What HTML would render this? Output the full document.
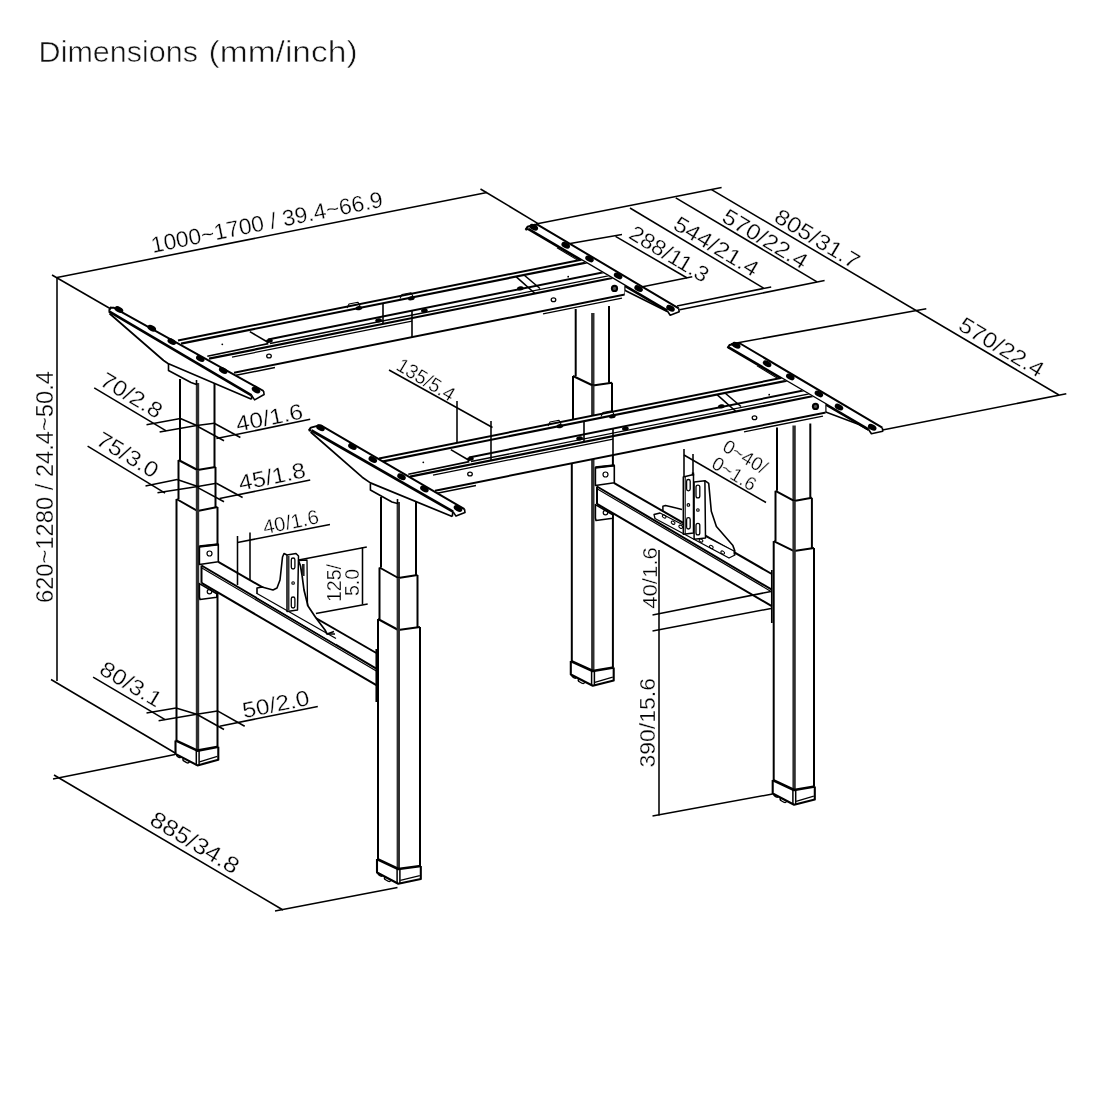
<!DOCTYPE html>
<html><head><meta charset="utf-8"><style>
html,body{margin:0;padding:0;background:#fff;}
svg{display:block;will-change:transform;}
text{font-family:"Liberation Sans",sans-serif;fill:#000;stroke:#fff;stroke-width:0.3px;}
text.t{stroke:#fff;stroke-width:0.55px;fill:#111;}
</style></head><body>
<svg width="1100" height="1100" viewBox="0 0 1100 1100">
<defs>
<clipPath id="cb"><polygon points="0,0 527,0 528.1,228.9 624.7,285.7 624.7,1100 0,1100"/></clipPath>
<clipPath id="cf"><polygon points="0,0 728,0 728.5,347.4 825.7,404.3 825.7,1100 0,1100"/></clipPath>
</defs>
<rect width="1100" height="1100" fill="#fff"/>
<polygon points="571.8,376.0 612.9,376.0 612.9,667.5 571.8,661.0" fill="#fff" stroke-linejoin="round"/>
<polygon points="575.7,309.0 609.0,306.0 609.0,382.7 575.7,376.0" fill="#fff" stroke-linejoin="round"/>
<line x1="575.7" y1="309.0" x2="575.7" y2="376.0" stroke="#000" stroke-width="2.0"/>
<line x1="609.0" y1="306.0" x2="609.0" y2="382.7" stroke="#000" stroke-width="2.0"/>
<line x1="592.8" y1="313.0" x2="592.8" y2="385.5" stroke="#2e2e2e" stroke-width="3.4"/>
<polyline points="573.0,376.0 592.8,385.5 612.0,382.7" fill="none" stroke="#000" stroke-width="2.0" stroke-linejoin="round"/>
<line x1="573.0" y1="376.0" x2="573.0" y2="425.0" stroke="#000" stroke-width="2.0"/>
<line x1="612.0" y1="382.7" x2="612.0" y2="432.0" stroke="#000" stroke-width="2.0"/>
<polyline points="571.8,425.0 592.8,435.0 612.9,432.0" fill="none" stroke="#000" stroke-width="2.0" stroke-linejoin="round"/>
<line x1="592.8" y1="385.5" x2="592.8" y2="435.0" stroke="#2e2e2e" stroke-width="3.4"/>
<line x1="571.8" y1="425.0" x2="571.8" y2="661.0" stroke="#000" stroke-width="2.0"/>
<line x1="612.9" y1="432.0" x2="612.9" y2="667.5" stroke="#000" stroke-width="2.0"/>
<line x1="592.8" y1="435.0" x2="592.8" y2="671.0" stroke="#2e2e2e" stroke-width="3.4"/>
<rect x="572.1" y="673.8" width="5" height="4" rx="1.8" transform="rotate(30 574.6 675.8)" fill="#fff" stroke="#000" stroke-width="1.4"/>
<rect x="578.3" y="678.3" width="7" height="4.5" rx="2" transform="rotate(30 581.8 680.5)" fill="#fff" stroke="#000" stroke-width="1.4"/>
<polygon points="570.8,661.0 592.8,671.0 613.7,667.5 613.7,680.5 592.8,685.8 570.8,674.5" fill="#fff" stroke-linejoin="round"/>
<polyline points="570.8,661.0 592.8,671.0 613.7,667.5" fill="none" stroke="#000" stroke-width="2.6" stroke-linejoin="round"/>
<polyline points="570.8,661.0 570.8,674.5 592.8,685.8 613.7,680.5 613.7,667.5" fill="none" stroke="#000" stroke-width="2.1" stroke-linejoin="round"/>
<line x1="591.6" y1="671.0" x2="591.6" y2="685.8" stroke="#000" stroke-width="1.5"/>
<line x1="594.4" y1="671.0" x2="594.4" y2="685.8" stroke="#000" stroke-width="1.5"/>
<line x1="594.8" y1="682.3" x2="612.7" y2="677.1" stroke="#000" stroke-width="1.2"/>
<polygon points="176.5,460.0 217.5,460.0 217.5,746.8 176.5,740.4" fill="#fff" stroke-linejoin="round"/>
<polygon points="180.0,379.0 214.5,380.0 214.5,467.0 180.0,460.0" fill="#fff" stroke-linejoin="round"/>
<line x1="180.0" y1="379.0" x2="180.0" y2="460.0" stroke="#000" stroke-width="2.0"/>
<line x1="214.5" y1="380.0" x2="214.5" y2="467.0" stroke="#000" stroke-width="2.0"/>
<line x1="197.5" y1="383.0" x2="197.5" y2="470.0" stroke="#2e2e2e" stroke-width="3.4"/>
<polyline points="178.5,460.0 197.5,470.0 215.5,467.0" fill="none" stroke="#000" stroke-width="2.0" stroke-linejoin="round"/>
<line x1="178.5" y1="460.0" x2="178.5" y2="499.0" stroke="#000" stroke-width="2.0"/>
<line x1="215.5" y1="467.0" x2="215.5" y2="507.0" stroke="#000" stroke-width="2.0"/>
<polyline points="176.5,499.0 197.5,511.0 217.5,507.0" fill="none" stroke="#000" stroke-width="2.0" stroke-linejoin="round"/>
<line x1="197.5" y1="470.0" x2="197.5" y2="511.0" stroke="#2e2e2e" stroke-width="3.4"/>
<line x1="176.5" y1="499.0" x2="176.5" y2="740.4" stroke="#000" stroke-width="2.0"/>
<line x1="217.5" y1="507.0" x2="217.5" y2="746.8" stroke="#000" stroke-width="2.0"/>
<line x1="197.5" y1="511.0" x2="197.5" y2="750.6" stroke="#2e2e2e" stroke-width="3.4"/>
<rect x="176.8" y="753.2" width="5" height="4" rx="1.8" transform="rotate(30 179.3 755.2)" fill="#fff" stroke="#000" stroke-width="1.4"/>
<rect x="183.0" y="757.7" width="7" height="4.5" rx="2" transform="rotate(30 186.5 759.9)" fill="#fff" stroke="#000" stroke-width="1.4"/>
<polygon points="175.5,740.4 197.5,750.6 218.3,746.8 218.3,759.8 197.5,765.4 175.5,753.9" fill="#fff" stroke-linejoin="round"/>
<polyline points="175.5,740.4 197.5,750.6 218.3,746.8" fill="none" stroke="#000" stroke-width="2.6" stroke-linejoin="round"/>
<polyline points="175.5,740.4 175.5,753.9 197.5,765.4 218.3,759.8 218.3,746.8" fill="none" stroke="#000" stroke-width="2.1" stroke-linejoin="round"/>
<line x1="196.3" y1="750.6" x2="196.3" y2="765.4" stroke="#000" stroke-width="1.5"/>
<line x1="199.1" y1="750.6" x2="199.1" y2="765.4" stroke="#000" stroke-width="1.5"/>
<line x1="199.5" y1="761.9" x2="217.3" y2="756.4" stroke="#000" stroke-width="1.2"/>
<polygon points="526.5,227.3 537.9,224.8 678.7,308.3 679.2,311.8 670.2,315.2 667.2,310.7 528.1,228.9" fill="#fff" stroke-linejoin="round"/>
<polyline points="624.7,290.3 624.7,285.3" fill="none" stroke-linejoin="round"/>
<polygon points="624.7,285.7 624.7,290.3 667.2,311.5 667.2,310.7" fill="#fff" stroke-linejoin="round"/>
<polyline points="624.7,290.3 667.2,311.5" fill="none" stroke="#000" stroke-width="1.6" stroke-linejoin="round"/>
<line x1="624.7" y1="285.7" x2="624.7" y2="290.3" stroke="#000" stroke-width="1.6"/>
<polyline points="525.5,229.8 527.5,226.8 534.9,224.8 537.9,224.8 678.7,308.3" fill="none" stroke="#000" stroke-width="2.0" stroke-linejoin="round"/>
<line x1="528.1" y1="228.9" x2="667.2" y2="310.7" stroke="#000" stroke-width="2.7"/>
<line x1="557.0" y1="247.7" x2="578.0" y2="260.4" stroke="#000" stroke-width="1.1"/>
<polyline points="525.5,229.8 528.1,228.9" fill="none" stroke="#000" stroke-width="2.0" stroke-linejoin="round"/>
<polyline points="678.7,308.3 679.2,311.8 670.2,315.2 667.2,310.7" fill="none" stroke="#000" stroke-width="1.6" stroke-linejoin="round"/>
<ellipse cx="533.8" cy="227.3" rx="4.6" ry="2.8" transform="rotate(28 533.8 227.3)" fill="#000"/>
<ellipse cx="565.7" cy="245.3" rx="4.6" ry="2.8" transform="rotate(28 565.7 245.3)" fill="#000"/>
<ellipse cx="589.5" cy="258.9" rx="4.6" ry="2.8" transform="rotate(28 589.5 258.9)" fill="#000"/>
<ellipse cx="618.1" cy="275.9" rx="4.6" ry="2.8" transform="rotate(28 618.1 275.9)" fill="#000"/>
<ellipse cx="638.6" cy="288.6" rx="4.6" ry="2.8" transform="rotate(28 638.6 288.6)" fill="#000"/>
<ellipse cx="670.5" cy="308.3" rx="4.6" ry="2.8" transform="rotate(28 670.5 308.3)" fill="#000"/>
<g clip-path="url(#cb)">
<polygon points="178.0,340.4 590.0,258.0 625.0,268.0 625.0,294.5 234.0,372.7 207.0,359.1 181.0,343.8" fill="#fff" stroke-linejoin="round"/>
<line x1="178.0" y1="340.4" x2="590.0" y2="258.0" stroke="#000" stroke-width="2.0"/>
<line x1="181.0" y1="343.6" x2="590.0" y2="261.8" stroke="#000" stroke-width="2.2"/>
<line x1="268.0" y1="339.4" x2="625.0" y2="268.0" stroke="#000" stroke-width="2.0"/>
<line x1="270.0" y1="343.5" x2="622.0" y2="273.1" stroke="#000" stroke-width="1.4"/>
<line x1="209.0" y1="358.7" x2="625.0" y2="275.5" stroke="#000" stroke-width="2.2"/>
<line x1="232.0" y1="357.1" x2="412.0" y2="321.1" stroke="#000" stroke-width="1.2"/>
<line x1="234.0" y1="372.7" x2="625.0" y2="294.5" stroke="#000" stroke-width="2.0"/>
<line x1="207.3" y1="356.2" x2="268.3" y2="343.6" stroke="#000" stroke-width="1.6"/>
<line x1="249.8" y1="331.6" x2="268.3" y2="342.5" stroke="#000" stroke-width="1.6"/>
<line x1="516.0" y1="276.6" x2="535.0" y2="293.5" stroke="#000" stroke-width="1.6"/>
<line x1="524.0" y1="275.0" x2="540.0" y2="288.5" stroke="#000" stroke-width="1.6"/>
<line x1="383.0" y1="303.2" x2="383.0" y2="323.9" stroke="#000" stroke-width="1.6"/>
<line x1="412.0" y1="310.6" x2="412.0" y2="337.1" stroke="#000" stroke-width="1.6"/>
<line x1="625.0" y1="268.0" x2="625.0" y2="294.5" stroke="#000" stroke-width="1.6"/>
<line x1="236.0" y1="375.3" x2="275.0" y2="367.5" stroke="#000" stroke-width="1.4"/>
<line x1="543.0" y1="313.9" x2="622.0" y2="298.1" stroke="#000" stroke-width="1.4"/>
<ellipse cx="358.9" cy="308.1" rx="3.4" ry="2.1" transform="rotate(-11 358.9 308.1)" fill="#000"/>
<ellipse cx="411.3" cy="298.3" rx="3.4" ry="2.1" transform="rotate(-11 411.3 298.3)" fill="#000"/>
<ellipse cx="378.6" cy="320.4" rx="3.4" ry="2.1" transform="rotate(-11 378.6 320.4)" fill="#000"/>
<ellipse cx="424.4" cy="310.6" rx="3.4" ry="2.1" transform="rotate(-11 424.4 310.6)" fill="#000"/>
<ellipse cx="269.4" cy="340.8" rx="3.4" ry="2.1" transform="rotate(-11 269.4 340.8)" fill="#000"/>
<ellipse cx="520.4" cy="288.4" rx="3.4" ry="2.1" transform="rotate(-11 520.4 288.4)" fill="#000"/>
<polyline points="347.0,308.0 349.0,304.0 358.0,302.2 360.0,306.0" fill="none" stroke="#000" stroke-width="1.1" stroke-linejoin="round"/>
<polyline points="400.0,298.5 402.0,294.5 411.0,292.7 413.0,296.5" fill="none" stroke="#000" stroke-width="1.1" stroke-linejoin="round"/>
<ellipse cx="269.0" cy="356.0" rx="2.3" ry="1.9" transform="rotate(0 269.0 356.0)" fill="none" stroke="#000" stroke-width="1.3"/>
<ellipse cx="553.5" cy="299.8" rx="2.3" ry="1.9" transform="rotate(0 553.5 299.8)" fill="none" stroke="#000" stroke-width="1.3"/>
<ellipse cx="222.3" cy="344.3" rx="0.9" ry="0.9" transform="rotate(0 222.3 344.3)" fill="#000"/>
<ellipse cx="568.2" cy="276.7" rx="0.9" ry="0.9" transform="rotate(0 568.2 276.7)" fill="#000"/>
<ellipse cx="614.5" cy="288.4" rx="3.6" ry="3.6" transform="rotate(0 614.5 288.4)" fill="#000"/>
<ellipse cx="614.5" cy="288.4" rx="1.6" ry="1.6" transform="rotate(0 614.5 288.4)" fill="#555"/>
</g>
<polygon points="110.0,308.0 113.6,307.7 263.6,391.0 264.1,394.5 254.6,399.9 251.6,399.2 168.0,363.5 163.6,360.5 109.5,313.5" fill="#fff" stroke-linejoin="round"/>
<polyline points="168.5,364.0 168.5,370.5 191.0,382.5 196.5,384.5 196.5,380.0" fill="#fff" stroke="#000" stroke-width="1.6" stroke-linejoin="round"/>
<polyline points="109.5,313.5 163.6,360.5 168.0,363.5 251.6,399.2" fill="none" stroke="#000" stroke-width="1.7" stroke-linejoin="round"/>
<line x1="251.6" y1="395.4" x2="251.6" y2="399.2" stroke="#000" stroke-width="1.7"/>
<polyline points="109.0,310.5 111.0,307.5 110.6,307.7 113.6,307.7 263.6,391.0" fill="none" stroke="#000" stroke-width="2.0" stroke-linejoin="round"/>
<line x1="109.0" y1="311.4" x2="251.6" y2="395.4" stroke="#000" stroke-width="2.7"/>
<polyline points="109.0,310.5 109.0,311.4" fill="none" stroke="#000" stroke-width="2.0" stroke-linejoin="round"/>
<polyline points="263.6,391.0 264.1,394.5 254.6,399.9 251.6,395.4" fill="none" stroke="#000" stroke-width="1.6" stroke-linejoin="round"/>
<ellipse cx="119.0" cy="309.6" rx="4.6" ry="2.8" transform="rotate(28 119.0 309.6)" fill="#000"/>
<ellipse cx="151.8" cy="328.2" rx="4.6" ry="2.8" transform="rotate(28 151.8 328.2)" fill="#000"/>
<ellipse cx="171.8" cy="341.6" rx="4.6" ry="2.8" transform="rotate(28 171.8 341.6)" fill="#000"/>
<ellipse cx="200.3" cy="358.6" rx="4.6" ry="2.8" transform="rotate(28 200.3 358.6)" fill="#000"/>
<ellipse cx="223.2" cy="370.5" rx="4.6" ry="2.8" transform="rotate(28 223.2 370.5)" fill="#000"/>
<ellipse cx="256.0" cy="390.0" rx="4.6" ry="2.8" transform="rotate(28 256.0 390.0)" fill="#000"/>
<polygon points="218.3,561.8 376.3,653.0 376.3,685.1 201.5,582.9 201.5,565.5" fill="#fff" stroke-linejoin="round"/>
<line x1="218.3" y1="561.8" x2="376.3" y2="653.0" stroke="#000" stroke-width="2.0"/>
<line x1="201.5" y1="565.5" x2="376.3" y2="668.7" stroke="#000" stroke-width="2.0"/>
<line x1="201.5" y1="567.7" x2="376.3" y2="670.9" stroke="#000" stroke-width="1.2"/>
<line x1="201.5" y1="582.9" x2="376.3" y2="685.1" stroke="#000" stroke-width="2.0"/>
<line x1="201.5" y1="565.5" x2="201.5" y2="582.9" stroke="#000" stroke-width="2.0"/>
<line x1="376.3" y1="649.0" x2="376.3" y2="702.0" stroke="#000" stroke-width="1.7"/>
<polygon points="199.4,546.5 218.3,544.4 218.3,561.8 199.4,564.5" fill="#fff" stroke="#000" stroke-width="1.6" stroke-linejoin="round"/>
<line x1="199.4" y1="546.5" x2="218.3" y2="544.4" stroke="#000" stroke-width="2.4"/>
<polygon points="199.4,583.6 216.8,593.8 216.8,597.2 200.0,599.5 199.4,597.0" fill="#fff" stroke="#000" stroke-width="1.6" stroke-linejoin="round"/>
<ellipse cx="209.5" cy="553.5" rx="2.5" ry="2.5" transform="rotate(0 209.5 553.5)" fill="none" stroke="#000" stroke-width="1.2"/>
<ellipse cx="209.5" cy="591.6" rx="2.3" ry="2.3" transform="rotate(0 209.5 591.6)" fill="none" stroke="#000" stroke-width="1.2"/>
<polygon points="257.0,588.0 262.0,587.0 273.0,590.0 277.0,588.0 280.0,580.0 282.5,557.0 284.0,553.5 287.0,554.0 296.0,553.5 298.5,556.0 298.5,560.5 300.5,566.0 302.0,575.0 304.0,590.0 308.0,606.0 316.0,618.0 325.0,630.0 327.0,633.5 336.0,634.0 336.0,643.9 257.0,597.2" fill="#fff" stroke-linejoin="round"/>
<line x1="257.0" y1="593.5" x2="336.0" y2="638.5" stroke="#000" stroke-width="1.2"/>
<polyline points="257.0,594.0 257.0,588.0 262.0,587.0 273.0,590.0 277.0,588.0 280.0,580.0 282.5,557.0 284.0,553.5 287.0,555.0" fill="none" stroke="#000" stroke-width="1.6" stroke-linejoin="round"/>
<polygon points="287.0,555.0 296.0,553.5 298.5,556.0 297.5,610.0 287.0,611.5" fill="#fff" stroke="#000" stroke-width="1.5" stroke-linejoin="round"/>
<line x1="288.8" y1="556.0" x2="288.8" y2="610.5" stroke="#000" stroke-width="1.2"/>
<rect x="291.3" y="558" width="3.6" height="11" rx="1.8" fill="none" stroke="#000" stroke-width="1.3"/>
<rect x="291.3" y="597" width="3.6" height="11" rx="1.8" fill="none" stroke="#000" stroke-width="1.3"/>
<ellipse cx="293.1" cy="583.0" rx="1.3" ry="1.3" transform="rotate(0 293.1 583.0)" fill="none" stroke="#000" stroke-width="1.1"/>
<polyline points="298.5,560.5 307.0,560.0 307.5,606.0" fill="none" stroke="#000" stroke-width="1.3" stroke-linejoin="round"/>
<polyline points="298.5,560.5 300.5,566.0 302.0,575.0 304.0,590.0 308.0,606.0 316.0,618.0 325.0,630.0 327.0,634.0 335.0,634.0" fill="none" stroke="#000" stroke-width="1.7" stroke-linejoin="round"/>
<rect x="302" y="564" width="2.6" height="12" fill="#222"/>
<line x1="327.0" y1="634.0" x2="334.0" y2="631.5" stroke="#000" stroke-width="1.4"/>
<polygon points="613.8,482.8 771.8,574.0 771.8,606.1 597.0,503.9 597.0,486.5" fill="#fff" stroke-linejoin="round"/>
<line x1="613.8" y1="482.8" x2="771.8" y2="574.0" stroke="#000" stroke-width="2.0"/>
<line x1="597.0" y1="486.5" x2="771.8" y2="589.7" stroke="#000" stroke-width="2.0"/>
<line x1="597.0" y1="488.7" x2="771.8" y2="591.9" stroke="#000" stroke-width="1.2"/>
<line x1="597.0" y1="503.9" x2="771.8" y2="606.1" stroke="#000" stroke-width="2.0"/>
<line x1="597.0" y1="486.5" x2="597.0" y2="503.9" stroke="#000" stroke-width="2.0"/>
<line x1="771.8" y1="570.0" x2="771.8" y2="623.0" stroke="#000" stroke-width="1.7"/>
<polygon points="595.4,467.5 614.3,465.4 614.3,482.8 595.4,485.5" fill="#fff" stroke="#000" stroke-width="1.6" stroke-linejoin="round"/>
<line x1="595.4" y1="467.5" x2="614.3" y2="465.4" stroke="#000" stroke-width="2.4"/>
<polygon points="595.4,504.6 612.8,514.8 612.8,518.2 596.0,520.5 595.4,518.0" fill="#fff" stroke="#000" stroke-width="1.6" stroke-linejoin="round"/>
<ellipse cx="605.5" cy="474.5" rx="2.5" ry="2.5" transform="rotate(0 605.5 474.5)" fill="none" stroke="#000" stroke-width="1.2"/>
<ellipse cx="605.5" cy="512.6" rx="2.3" ry="2.3" transform="rotate(0 605.5 512.6)" fill="none" stroke="#000" stroke-width="1.2"/>
<polygon points="654.0,514.5 660.0,513.0 734.0,551.0 735.0,555.0 729.0,558.0 655.0,518.5" fill="#fff" stroke="#000" stroke-width="1.3" stroke-linejoin="round"/>
<ellipse cx="664.2" cy="516.4" rx="2.0" ry="1.4" transform="rotate(30 664.2 516.4)" fill="none" stroke="#000" stroke-width="1.1"/>
<ellipse cx="673.1" cy="522.7" rx="2.0" ry="1.4" transform="rotate(30 673.1 522.7)" fill="none" stroke="#000" stroke-width="1.1"/>
<ellipse cx="680.7" cy="526.8" rx="2.0" ry="1.4" transform="rotate(30 680.7 526.8)" fill="none" stroke="#000" stroke-width="1.1"/>
<ellipse cx="701.0" cy="540.5" rx="2.0" ry="1.4" transform="rotate(30 701.0 540.5)" fill="none" stroke="#000" stroke-width="1.1"/>
<ellipse cx="711.3" cy="546.9" rx="2.0" ry="1.4" transform="rotate(30 711.3 546.9)" fill="none" stroke="#000" stroke-width="1.1"/>
<ellipse cx="722.7" cy="552.6" rx="2.0" ry="1.4" transform="rotate(30 722.7 552.6)" fill="none" stroke="#000" stroke-width="1.1"/>
<polyline points="662.9,511.8 662.9,506.2 665.5,505.5 672.0,507.0 682.0,509.4" fill="none" stroke="#000" stroke-width="1.5" stroke-linejoin="round"/>
<polygon points="683.3,476.9 693.5,474.4 693.5,532.9 683.3,534.2" fill="#fff" stroke="#000" stroke-width="1.5" stroke-linejoin="round"/>
<line x1="685.2" y1="477.0" x2="685.2" y2="534.0" stroke="#000" stroke-width="1.1"/>
<rect x="686.6" y="479.5" width="3.6" height="11.4" rx="1.8" fill="none" stroke="#000" stroke-width="1.3"/>
<rect x="686.6" y="517.6" width="3.6" height="11.4" rx="1.8" fill="none" stroke="#000" stroke-width="1.3"/>
<ellipse cx="688.4" cy="504.9" rx="1.3" ry="1.3" transform="rotate(0 688.4 504.9)" fill="none" stroke="#000" stroke-width="1.1"/>
<rect x="691.8" y="472.5" width="2.4" height="3" fill="#000"/>
<polygon points="694.1,482.0 704.9,480.7 705.5,538.0 694.1,539.3" fill="#fff" stroke="#000" stroke-width="1.5" stroke-linejoin="round"/>
<rect x="696" y="485.2" width="3.8" height="12.7" rx="1.9" fill="none" stroke="#000" stroke-width="1.3"/>
<rect x="696" y="523.4" width="3.8" height="11.4" rx="1.9" fill="none" stroke="#000" stroke-width="1.3"/>
<ellipse cx="697.9" cy="510.0" rx="1.3" ry="1.3" transform="rotate(0 697.9 510.0)" fill="none" stroke="#000" stroke-width="1.1"/>
<polyline points="704.9,480.7 708.7,483.3 711.3,511.3 716.4,526.5 732.9,545.6 734.8,550.7 734.2,554.5" fill="none" stroke="#000" stroke-width="1.6" stroke-linejoin="round"/>
<polygon points="773.7,490.8 814.0,490.8 814.0,786.5 773.7,780.0" fill="#fff" stroke-linejoin="round"/>
<polygon points="777.0,427.5 810.3,423.5 810.3,497.8 777.0,490.8" fill="#fff" stroke-linejoin="round"/>
<line x1="777.0" y1="427.5" x2="777.0" y2="490.8" stroke="#000" stroke-width="2.0"/>
<line x1="810.3" y1="423.5" x2="810.3" y2="497.8" stroke="#000" stroke-width="2.0"/>
<line x1="794.1" y1="425.5" x2="794.1" y2="500.9" stroke="#2e2e2e" stroke-width="3.4"/>
<polyline points="775.5,490.8 794.1,500.9 811.9,497.8" fill="none" stroke="#000" stroke-width="2.0" stroke-linejoin="round"/>
<line x1="775.5" y1="490.8" x2="775.5" y2="541.1" stroke="#000" stroke-width="2.0"/>
<line x1="811.9" y1="497.8" x2="811.9" y2="548.0" stroke="#000" stroke-width="2.0"/>
<polyline points="773.7,541.1 794.1,551.1 814.0,548.0" fill="none" stroke="#000" stroke-width="2.0" stroke-linejoin="round"/>
<line x1="794.1" y1="500.9" x2="794.1" y2="551.1" stroke="#2e2e2e" stroke-width="3.4"/>
<line x1="773.7" y1="541.1" x2="773.7" y2="780.0" stroke="#000" stroke-width="2.0"/>
<line x1="814.0" y1="548.0" x2="814.0" y2="786.5" stroke="#000" stroke-width="2.0"/>
<line x1="794.1" y1="551.1" x2="794.1" y2="790.0" stroke="#2e2e2e" stroke-width="3.4"/>
<rect x="774.0" y="792.8" width="5" height="4" rx="1.8" transform="rotate(30 776.5 794.8)" fill="#fff" stroke="#000" stroke-width="1.4"/>
<rect x="780.2" y="797.3" width="7" height="4.5" rx="2" transform="rotate(30 783.7 799.5)" fill="#fff" stroke="#000" stroke-width="1.4"/>
<polygon points="772.7,780.0 794.1,790.0 814.8,786.5 814.8,799.5 794.1,804.8 772.7,793.5" fill="#fff" stroke-linejoin="round"/>
<polyline points="772.7,780.0 794.1,790.0 814.8,786.5" fill="none" stroke="#000" stroke-width="2.6" stroke-linejoin="round"/>
<polyline points="772.7,780.0 772.7,793.5 794.1,804.8 814.8,799.5 814.8,786.5" fill="none" stroke="#000" stroke-width="2.1" stroke-linejoin="round"/>
<line x1="792.9" y1="790.0" x2="792.9" y2="804.8" stroke="#000" stroke-width="1.5"/>
<line x1="795.7" y1="790.0" x2="795.7" y2="804.8" stroke="#000" stroke-width="1.5"/>
<line x1="796.1" y1="801.3" x2="813.8" y2="796.1" stroke="#000" stroke-width="1.2"/>
<polygon points="378.0,567.5 420.0,567.5 420.0,866.0 378.0,859.0" fill="#fff" stroke-linejoin="round"/>
<polygon points="381.0,497.0 416.0,499.0 416.0,575.0 381.0,567.5" fill="#fff" stroke-linejoin="round"/>
<line x1="381.0" y1="497.0" x2="381.0" y2="567.5" stroke="#000" stroke-width="2.0"/>
<line x1="416.0" y1="499.0" x2="416.0" y2="575.0" stroke="#000" stroke-width="2.0"/>
<line x1="398.3" y1="502.0" x2="398.3" y2="578.0" stroke="#2e2e2e" stroke-width="3.4"/>
<polyline points="379.5,567.5 398.3,578.0 417.5,575.0" fill="none" stroke="#000" stroke-width="2.0" stroke-linejoin="round"/>
<line x1="379.5" y1="567.5" x2="379.5" y2="619.0" stroke="#000" stroke-width="2.0"/>
<line x1="417.5" y1="575.0" x2="417.5" y2="627.0" stroke="#000" stroke-width="2.0"/>
<polyline points="378.0,619.0 398.3,630.0 420.0,627.0" fill="none" stroke="#000" stroke-width="2.0" stroke-linejoin="round"/>
<line x1="398.3" y1="578.0" x2="398.3" y2="630.0" stroke="#2e2e2e" stroke-width="3.4"/>
<line x1="378.0" y1="619.0" x2="378.0" y2="859.0" stroke="#000" stroke-width="2.0"/>
<line x1="420.0" y1="627.0" x2="420.0" y2="866.0" stroke="#000" stroke-width="2.0"/>
<line x1="398.3" y1="630.0" x2="398.3" y2="869.0" stroke="#2e2e2e" stroke-width="3.4"/>
<rect x="378.3" y="871.8" width="5" height="4" rx="1.8" transform="rotate(30 380.8 873.8)" fill="#fff" stroke="#000" stroke-width="1.4"/>
<rect x="384.5" y="876.3" width="7" height="4.5" rx="2" transform="rotate(30 388.0 878.5)" fill="#fff" stroke="#000" stroke-width="1.4"/>
<polygon points="377.0,859.0 398.3,869.0 420.8,866.0 420.8,879.0 398.3,883.8 377.0,872.5" fill="#fff" stroke-linejoin="round"/>
<polyline points="377.0,859.0 398.3,869.0 420.8,866.0" fill="none" stroke="#000" stroke-width="2.6" stroke-linejoin="round"/>
<polyline points="377.0,859.0 377.0,872.5 398.3,883.8 420.8,879.0 420.8,866.0" fill="none" stroke="#000" stroke-width="2.1" stroke-linejoin="round"/>
<line x1="397.1" y1="869.0" x2="397.1" y2="883.8" stroke="#000" stroke-width="1.5"/>
<line x1="399.9" y1="869.0" x2="399.9" y2="883.8" stroke="#000" stroke-width="1.5"/>
<line x1="400.3" y1="880.3" x2="419.8" y2="875.6" stroke="#000" stroke-width="1.2"/>
<polygon points="728.5,345.5 740.1,343.5 882.3,427.7 882.8,431.2 871.4,433.8 868.4,429.3 728.5,347.4" fill="#fff" stroke-linejoin="round"/>
<polyline points="825.7,412.0 825.7,407.0" fill="none" stroke-linejoin="round"/>
<polygon points="825.7,404.3 825.7,412.0 859.0,424.6 868.4,430.0 868.4,429.3" fill="#fff" stroke-linejoin="round"/>
<polyline points="825.7,412.0 859.0,424.6 868.4,430.0" fill="none" stroke="#000" stroke-width="1.6" stroke-linejoin="round"/>
<line x1="825.7" y1="404.3" x2="825.7" y2="412.0" stroke="#000" stroke-width="1.6"/>
<polyline points="727.5,348.0 729.5,345.0 737.1,343.5 740.1,343.5 882.3,427.7" fill="none" stroke="#000" stroke-width="2.0" stroke-linejoin="round"/>
<line x1="728.5" y1="347.4" x2="868.4" y2="429.3" stroke="#000" stroke-width="2.7"/>
<line x1="757.0" y1="365.9" x2="780.0" y2="379.7" stroke="#000" stroke-width="1.1"/>
<polyline points="727.5,348.0 728.5,347.4" fill="none" stroke="#000" stroke-width="2.0" stroke-linejoin="round"/>
<polyline points="882.3,427.7 882.8,431.2 871.4,433.8 868.4,429.3" fill="none" stroke="#000" stroke-width="1.6" stroke-linejoin="round"/>
<ellipse cx="736.2" cy="345.3" rx="4.6" ry="2.8" transform="rotate(28 736.2 345.3)" fill="#000"/>
<ellipse cx="767.1" cy="363.8" rx="4.6" ry="2.8" transform="rotate(28 767.1 363.8)" fill="#000"/>
<ellipse cx="790.3" cy="376.9" rx="4.6" ry="2.8" transform="rotate(28 790.3 376.9)" fill="#000"/>
<ellipse cx="818.9" cy="393.9" rx="4.6" ry="2.8" transform="rotate(28 818.9 393.9)" fill="#000"/>
<ellipse cx="839.0" cy="407.1" rx="4.6" ry="2.8" transform="rotate(28 839.0 407.1)" fill="#000"/>
<ellipse cx="872.2" cy="427.3" rx="4.6" ry="2.8" transform="rotate(28 872.2 427.3)" fill="#000"/>
<g clip-path="url(#cf)">
<polygon points="379.0,458.4 791.0,376.0 826.0,386.0 826.0,412.5 435.0,490.7 408.0,477.1 382.0,461.8" fill="#fff" stroke-linejoin="round"/>
<line x1="379.0" y1="458.4" x2="791.0" y2="376.0" stroke="#000" stroke-width="2.0"/>
<line x1="382.0" y1="461.6" x2="791.0" y2="379.8" stroke="#000" stroke-width="2.2"/>
<line x1="469.0" y1="457.4" x2="826.0" y2="386.0" stroke="#000" stroke-width="2.0"/>
<line x1="471.0" y1="461.5" x2="823.0" y2="391.1" stroke="#000" stroke-width="1.4"/>
<line x1="410.0" y1="476.7" x2="826.0" y2="393.5" stroke="#000" stroke-width="2.2"/>
<line x1="433.0" y1="475.1" x2="613.0" y2="439.1" stroke="#000" stroke-width="1.2"/>
<line x1="435.0" y1="490.7" x2="826.0" y2="412.5" stroke="#000" stroke-width="2.0"/>
<line x1="408.3" y1="474.2" x2="469.3" y2="461.6" stroke="#000" stroke-width="1.6"/>
<line x1="450.8" y1="449.6" x2="469.3" y2="460.5" stroke="#000" stroke-width="1.6"/>
<line x1="717.0" y1="394.6" x2="736.0" y2="411.5" stroke="#000" stroke-width="1.6"/>
<line x1="725.0" y1="393.0" x2="741.0" y2="406.5" stroke="#000" stroke-width="1.6"/>
<line x1="584.0" y1="421.2" x2="584.0" y2="441.9" stroke="#000" stroke-width="1.6"/>
<line x1="613.0" y1="428.6" x2="613.0" y2="455.1" stroke="#000" stroke-width="1.6"/>
<line x1="826.0" y1="386.0" x2="826.0" y2="412.5" stroke="#000" stroke-width="1.6"/>
<line x1="437.0" y1="493.3" x2="476.0" y2="485.5" stroke="#000" stroke-width="1.4"/>
<line x1="744.0" y1="431.9" x2="823.0" y2="416.1" stroke="#000" stroke-width="1.4"/>
<ellipse cx="559.9" cy="426.1" rx="3.4" ry="2.1" transform="rotate(-11 559.9 426.1)" fill="#000"/>
<ellipse cx="612.3" cy="416.3" rx="3.4" ry="2.1" transform="rotate(-11 612.3 416.3)" fill="#000"/>
<ellipse cx="579.6" cy="438.4" rx="3.4" ry="2.1" transform="rotate(-11 579.6 438.4)" fill="#000"/>
<ellipse cx="625.4" cy="428.6" rx="3.4" ry="2.1" transform="rotate(-11 625.4 428.6)" fill="#000"/>
<ellipse cx="470.4" cy="458.8" rx="3.4" ry="2.1" transform="rotate(-11 470.4 458.8)" fill="#000"/>
<ellipse cx="721.4" cy="406.4" rx="3.4" ry="2.1" transform="rotate(-11 721.4 406.4)" fill="#000"/>
<polyline points="548.0,426.0 550.0,422.0 559.0,420.2 561.0,424.0" fill="none" stroke="#000" stroke-width="1.1" stroke-linejoin="round"/>
<polyline points="601.0,416.5 603.0,412.5 612.0,410.7 614.0,414.5" fill="none" stroke="#000" stroke-width="1.1" stroke-linejoin="round"/>
<ellipse cx="470.0" cy="474.0" rx="2.3" ry="1.9" transform="rotate(0 470.0 474.0)" fill="none" stroke="#000" stroke-width="1.3"/>
<ellipse cx="754.5" cy="417.8" rx="2.3" ry="1.9" transform="rotate(0 754.5 417.8)" fill="none" stroke="#000" stroke-width="1.3"/>
<ellipse cx="423.3" cy="462.3" rx="0.9" ry="0.9" transform="rotate(0 423.3 462.3)" fill="#000"/>
<ellipse cx="769.2" cy="394.7" rx="0.9" ry="0.9" transform="rotate(0 769.2 394.7)" fill="#000"/>
<ellipse cx="815.5" cy="406.4" rx="3.6" ry="3.6" transform="rotate(0 815.5 406.4)" fill="#000"/>
<ellipse cx="815.5" cy="406.4" rx="1.6" ry="1.6" transform="rotate(0 815.5 406.4)" fill="#555"/>
</g>
<polygon points="309.8,428.1 321.3,425.6 464.5,509.1 465.0,512.6 456.0,516.1 452.2,516.5 370.4,482.9 362.2,477.2 310.6,432.0" fill="#fff" stroke-linejoin="round"/>
<polyline points="370.4,483.5 370.4,490.0 392.0,502.0 397.5,503.5 397.5,499.0" fill="#fff" stroke="#000" stroke-width="1.6" stroke-linejoin="round"/>
<polyline points="310.6,432.0 362.2,477.2 370.4,482.9 452.2,516.5" fill="none" stroke="#000" stroke-width="1.7" stroke-linejoin="round"/>
<line x1="453.0" y1="511.6" x2="452.2" y2="516.5" stroke="#000" stroke-width="1.7"/>
<polyline points="308.8,430.6 310.8,427.6 318.3,425.6 321.3,425.6 464.5,509.1" fill="none" stroke="#000" stroke-width="2.0" stroke-linejoin="round"/>
<line x1="311.5" y1="430.5" x2="453.0" y2="511.6" stroke="#000" stroke-width="2.7"/>
<polyline points="308.8,430.6 311.5,430.5" fill="none" stroke="#000" stroke-width="2.0" stroke-linejoin="round"/>
<polyline points="464.5,509.1 465.0,512.6 456.0,516.1 453.0,511.6" fill="none" stroke="#000" stroke-width="1.6" stroke-linejoin="round"/>
<ellipse cx="320.5" cy="427.8" rx="4.6" ry="2.8" transform="rotate(28 320.5 427.8)" fill="#000"/>
<ellipse cx="352.4" cy="446.6" rx="4.6" ry="2.8" transform="rotate(28 352.4 446.6)" fill="#000"/>
<ellipse cx="372.8" cy="459.6" rx="4.6" ry="2.8" transform="rotate(28 372.8 459.6)" fill="#000"/>
<ellipse cx="401.5" cy="476.8" rx="4.6" ry="2.8" transform="rotate(28 401.5 476.8)" fill="#000"/>
<ellipse cx="424.4" cy="489.0" rx="4.6" ry="2.8" transform="rotate(28 424.4 489.0)" fill="#000"/>
<ellipse cx="458.0" cy="508.5" rx="4.6" ry="2.8" transform="rotate(28 458.0 508.5)" fill="#000"/>
<line x1="57.0" y1="277.5" x2="487.0" y2="192.5" stroke="#000" stroke-width="1.55"/>
<line x1="52.0" y1="275.0" x2="110.0" y2="308.5" stroke="#000" stroke-width="1.55"/>
<line x1="480.5" y1="189.0" x2="538.5" y2="223.8" stroke="#000" stroke-width="1.55"/>
<text x="268.4" y="229.7" font-size="22.5" text-anchor="middle" textLength="236" lengthAdjust="spacingAndGlyphs" transform="rotate(-11.4 268.4 229.7)">1000~1700 / 39.4~66.9</text>
<line x1="57.0" y1="277.0" x2="57.0" y2="681.0" stroke="#000" stroke-width="1.55"/>
<line x1="51.0" y1="679.5" x2="176.0" y2="753.5" stroke="#000" stroke-width="1.55"/>
<text x="52.9" y="487.0" font-size="23" text-anchor="middle" textLength="232" lengthAdjust="spacingAndGlyphs" transform="rotate(-90 52.9 487.0)">620~1280 / 24.4~50.4</text>
<line x1="53.0" y1="779.0" x2="175.0" y2="754.6" stroke="#000" stroke-width="1.55"/>
<line x1="54.0" y1="775.0" x2="283.0" y2="910.0" stroke="#000" stroke-width="1.55"/>
<line x1="275.0" y1="911.0" x2="397.5" y2="887.5" stroke="#000" stroke-width="1.55"/>
<text x="190.9" y="849.3" font-size="23" text-anchor="middle" textLength="99.4" lengthAdjust="spacingAndGlyphs" transform="rotate(31 190.9 849.3)">885/34.8</text>
<line x1="94.2" y1="387.9" x2="166.2" y2="430.9" stroke="#000" stroke-width="1.55"/>
<line x1="146.5" y1="424.8" x2="180.4" y2="418.5" stroke="#000" stroke-width="1.55"/>
<line x1="159.6" y1="432.0" x2="196.7" y2="425.5" stroke="#000" stroke-width="1.55"/>
<polyline points="180.4,418.5 196.7,425.5 214.2,423.3" fill="none" stroke="#000" stroke-width="1.55" stroke-linejoin="round"/>
<line x1="214.2" y1="423.3" x2="240.4" y2="437.5" stroke="#000" stroke-width="1.55"/>
<line x1="197.8" y1="426.5" x2="224.0" y2="440.7" stroke="#000" stroke-width="1.55"/>
<line x1="216.4" y1="438.6" x2="310.2" y2="419.3" stroke="#000" stroke-width="1.55"/>
<text x="127.7" y="401.7" font-size="22" text-anchor="middle" textLength="67.9" lengthAdjust="spacingAndGlyphs" transform="rotate(31 127.7 401.7)">70/2.8</text>
<text x="270.9" y="425.0" font-size="22" text-anchor="middle" textLength="67.9" lengthAdjust="spacingAndGlyphs" transform="rotate(-11.5 270.9 425.0)">40/1.6</text>
<line x1="87.6" y1="446.2" x2="165.1" y2="493.1" stroke="#000" stroke-width="1.55"/>
<line x1="145.5" y1="485.9" x2="177.1" y2="479.6" stroke="#000" stroke-width="1.55"/>
<line x1="157.5" y1="492.7" x2="197.8" y2="486.6" stroke="#000" stroke-width="1.55"/>
<polyline points="177.1,479.6 197.8,486.6 216.4,483.3" fill="none" stroke="#000" stroke-width="1.55" stroke-linejoin="round"/>
<line x1="216.4" y1="483.3" x2="242.6" y2="497.5" stroke="#000" stroke-width="1.55"/>
<line x1="197.8" y1="487.6" x2="224.0" y2="501.8" stroke="#000" stroke-width="1.55"/>
<line x1="219.6" y1="498.6" x2="310.2" y2="480.0" stroke="#000" stroke-width="1.55"/>
<text x="123.9" y="461.2" font-size="22" text-anchor="middle" textLength="67.9" lengthAdjust="spacingAndGlyphs" transform="rotate(31 123.9 461.2)">75/3.0</text>
<text x="273.6" y="483.9" font-size="22" text-anchor="middle" textLength="67.9" lengthAdjust="spacingAndGlyphs" transform="rotate(-11.5 273.6 483.9)">45/1.8</text>
<line x1="93.1" y1="677.1" x2="165.1" y2="719.6" stroke="#000" stroke-width="1.55"/>
<line x1="146.5" y1="713.1" x2="176.0" y2="708.1" stroke="#000" stroke-width="1.55"/>
<line x1="158.6" y1="720.7" x2="196.7" y2="714.2" stroke="#000" stroke-width="1.55"/>
<polyline points="176.0,708.1 196.7,714.2 217.5,710.9" fill="none" stroke="#000" stroke-width="1.55" stroke-linejoin="round"/>
<line x1="217.5" y1="710.9" x2="244.7" y2="726.2" stroke="#000" stroke-width="1.55"/>
<line x1="196.7" y1="714.2" x2="224.0" y2="729.5" stroke="#000" stroke-width="1.55"/>
<line x1="219.6" y1="726.2" x2="317.8" y2="706.5" stroke="#000" stroke-width="1.55"/>
<text x="127.2" y="690.4" font-size="22" text-anchor="middle" textLength="67.9" lengthAdjust="spacingAndGlyphs" transform="rotate(31 127.2 690.4)">80/3.1</text>
<text x="277.4" y="711.6" font-size="22" text-anchor="middle" textLength="67.9" lengthAdjust="spacingAndGlyphs" transform="rotate(-11.5 277.4 711.6)">50/2.0</text>
<line x1="237.5" y1="542.5" x2="330.0" y2="524.5" stroke="#000" stroke-width="1.55"/>
<line x1="237.5" y1="536.0" x2="237.5" y2="585.0" stroke="#000" stroke-width="1.55"/>
<line x1="250.0" y1="532.5" x2="250.0" y2="580.0" stroke="#000" stroke-width="1.55"/>
<text x="292.2" y="528.7" font-size="20" text-anchor="middle" textLength="56.7" lengthAdjust="spacingAndGlyphs" transform="rotate(-11.5 292.2 528.7)">40/1.6</text>
<line x1="362.5" y1="547.0" x2="362.5" y2="604.5" stroke="#000" stroke-width="1.55"/>
<line x1="298.6" y1="559.9" x2="366.8" y2="546.9" stroke="#000" stroke-width="1.55"/>
<line x1="315.9" y1="613.4" x2="367.7" y2="603.9" stroke="#000" stroke-width="1.55"/>
<text x="341.4" y="583.0" font-size="20" text-anchor="middle" textLength="38.1" lengthAdjust="spacingAndGlyphs" transform="rotate(-90 341.4 583.0)">125/</text>
<text x="358.9" y="582.5" font-size="20" text-anchor="middle" textLength="27.2" lengthAdjust="spacingAndGlyphs" transform="rotate(-90 358.9 582.5)">5.0</text>
<line x1="389.0" y1="370.0" x2="492.5" y2="427.5" stroke="#000" stroke-width="1.55"/>
<line x1="457.0" y1="401.0" x2="457.0" y2="442.5" stroke="#000" stroke-width="1.55"/>
<line x1="491.0" y1="421.0" x2="491.0" y2="461.0" stroke="#000" stroke-width="1.55"/>
<text x="422.4" y="385.6" font-size="20" text-anchor="middle" textLength="64.1" lengthAdjust="spacingAndGlyphs" transform="rotate(31 422.4 385.6)">135/5.4</text>
<line x1="536.0" y1="224.0" x2="721.6" y2="187.6" stroke="#000" stroke-width="1.55"/>
<line x1="711.5" y1="189.6" x2="1059.0" y2="395.0" stroke="#000" stroke-width="1.55"/>
<line x1="675.8" y1="197.8" x2="817.0" y2="281.8" stroke="#000" stroke-width="1.55"/>
<line x1="630.0" y1="208.0" x2="763.6" y2="288.1" stroke="#000" stroke-width="1.55"/>
<line x1="615.5" y1="236.4" x2="687.2" y2="278.0" stroke="#000" stroke-width="1.55"/>
<line x1="570.2" y1="243.6" x2="622.0" y2="234.4" stroke="#000" stroke-width="1.55"/>
<line x1="641.4" y1="286.9" x2="692.3" y2="276.7" stroke="#000" stroke-width="1.55"/>
<line x1="677.0" y1="306.0" x2="771.2" y2="286.9" stroke="#000" stroke-width="1.55"/>
<line x1="679.6" y1="309.8" x2="824.6" y2="280.5" stroke="#000" stroke-width="1.55"/>
<text x="813.5" y="245.3" font-size="22" text-anchor="middle" textLength="95.0" lengthAdjust="spacingAndGlyphs" transform="rotate(31 813.5 245.3)">805/31.7</text>
<text x="761.3" y="245.3" font-size="22" text-anchor="middle" textLength="95.0" lengthAdjust="spacingAndGlyphs" transform="rotate(31 761.3 245.3)">570/22.4</text>
<text x="712.4" y="252.8" font-size="22" text-anchor="middle" textLength="95.0" lengthAdjust="spacingAndGlyphs" transform="rotate(31 712.4 252.8)">544/21.4</text>
<text x="665.4" y="260.3" font-size="22" text-anchor="middle" textLength="88.2" lengthAdjust="spacingAndGlyphs" transform="rotate(31 665.4 260.3)">288/11.3</text>
<line x1="731.0" y1="344.0" x2="926.3" y2="308.7" stroke="#000" stroke-width="1.55"/>
<line x1="882.5" y1="430.0" x2="1066.3" y2="393.7" stroke="#000" stroke-width="1.55"/>
<text x="997.7" y="353.6" font-size="22" text-anchor="middle" textLength="95.0" lengthAdjust="spacingAndGlyphs" transform="rotate(31 997.7 353.6)">570/22.4</text>
<line x1="684.0" y1="455.0" x2="766.0" y2="502.5" stroke="#000" stroke-width="1.55"/>
<line x1="684.0" y1="449.0" x2="684.0" y2="477.0" stroke="#000" stroke-width="1.55"/>
<line x1="693.0" y1="454.0" x2="693.0" y2="475.0" stroke="#000" stroke-width="1.55"/>
<text x="741.9" y="462.3" font-size="19" text-anchor="middle" textLength="48.1" lengthAdjust="spacingAndGlyphs" transform="rotate(31 741.9 462.3)">0~40/</text>
<text x="730.9" y="479.3" font-size="19" text-anchor="middle" textLength="48.1" lengthAdjust="spacingAndGlyphs" transform="rotate(31 730.9 479.3)">0~1.6</text>
<line x1="659.0" y1="550.0" x2="659.0" y2="815.5" stroke="#000" stroke-width="1.55"/>
<line x1="652.5" y1="615.0" x2="771.0" y2="591.5" stroke="#000" stroke-width="1.55"/>
<line x1="652.5" y1="631.0" x2="771.0" y2="608.5" stroke="#000" stroke-width="1.55"/>
<line x1="652.5" y1="816.0" x2="772.5" y2="794.0" stroke="#000" stroke-width="1.55"/>
<text x="656.9" y="578.0" font-size="20" text-anchor="middle" textLength="61.7" lengthAdjust="spacingAndGlyphs" transform="rotate(-90 656.9 578.0)">40/1.6</text>
<text x="655.4" y="722.8" font-size="22" text-anchor="middle" textLength="89.5" lengthAdjust="spacingAndGlyphs" transform="rotate(-90 655.4 722.8)">390/15.6</text>
<text class="t" x="38.6" y="61.6" font-size="29.5" textLength="159.5" lengthAdjust="spacingAndGlyphs">Dimensions</text>
<text class="t" x="208.6" y="61.6" font-size="29.5" textLength="149" lengthAdjust="spacingAndGlyphs">(mm/inch)</text>
</svg></body></html>
